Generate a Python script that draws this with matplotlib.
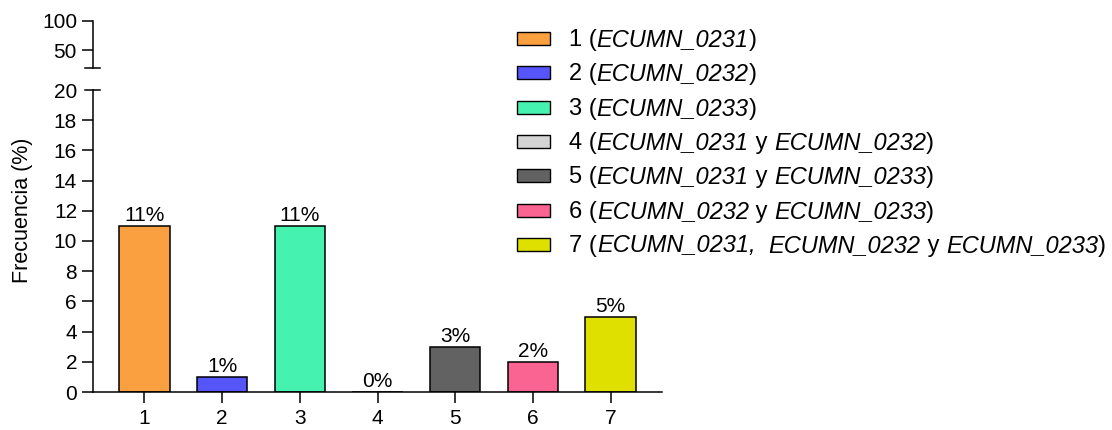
import matplotlib
matplotlib.use("Agg")
import matplotlib.pyplot as plt
from matplotlib.patches import Rectangle

plt.rcParams['font.family'] = ['Liberation Sans', 'DejaVu Sans']

categories = ['1', '2', '3', '4', '5', '6', '7']
values = [11, 1, 11, 0, 3, 2, 5]
bar_labels = ['11%', '1%', '11%', '0%', '3%', '2%', '5%']
colors = ['#FBA040', '#5555FA', '#45F2B0', '#D4D4D4', '#626262', '#FA6492', '#E0E000']
# legend entries: list of (text, italic) pieces
legend_entries = [
    [('1 (', False), ('ECUMN_0231', True), (')', False)],
    [('2 (', False), ('ECUMN_0232', True), (')', False)],
    [('3 (', False), ('ECUMN_0233', True), (')', False)],
    [('4 (', False), ('ECUMN_0231', True), (' y ', False), ('ECUMN_0232', True), (')', False)],
    [('5 (', False), ('ECUMN_0231', True), (' y ', False), ('ECUMN_0233', True), (')', False)],
    [('6 (', False), ('ECUMN_0232', True), (' y ', False), ('ECUMN_0233', True), (')', False)],
    [('7 (', False), ('ECUMN_0231,', True), ('  ', False), ('ECUMN_0232', True), (' y ', False),
     ('ECUMN_0233', True), (')', False)],
]
lower_ticks = [0, 2, 4, 6, 8, 10, 12, 14, 16, 18, 20]
upper_ticks = [50, 100]

FS = 15
LFS = 17
W, H = 1112, 430
fig = plt.figure(figsize=(W / 100, H / 100), dpi=100)

left, right = 93 / W, 662 / W
ax = fig.add_axes([left, (H - 392) / H, right - left, (392 - 90) / H])
axu = fig.add_axes([left, (H - 67.6) / H, right - left, (67.6 - 20.7) / H])

x = list(range(1, len(categories) + 1))
ax.bar(x, values, width=0.65, color=colors, edgecolor='black', linewidth=1.1)
for xi, v, lab in zip(x, values, bar_labels):
    ax.annotate(lab, (xi, v), xytext=(0, 0.5), textcoords='offset points',
                ha='center', va='bottom', fontsize=FS)

ax.set_xlim(0.34, 7.66)
ax.set_ylim(0, 20)
ax.set_xticks(x)
ax.set_xticklabels(categories)
ax.set_yticks(lower_ticks)
for s in ['top', 'right']:
    ax.spines[s].set_visible(False)
for s in ['left', 'bottom']:
    ax.spines[s].set_linewidth(1.1)
ax.tick_params(axis='both', direction='out', length=8, width=1.1, labelsize=FS)
ax.tick_params(axis='y', pad=3.5)
ax.tick_params(axis='x', pad=4)

axu.set_xlim(0.34, 7.66)
axu.set_ylim(20, 100)
axu.set_yticks(upper_ticks)
axu.set_xticks([])
for s in ['top', 'right', 'bottom']:
    axu.spines[s].set_visible(False)
axu.spines['left'].set_linewidth(1.1)
axu.tick_params(axis='y', direction='out', length=8, width=1.1, labelsize=FS, pad=3.5)
axu.patch.set_alpha(0)

# break caps
cap = 7.5 / (right - left) / W
ax.plot([-cap, cap], [1, 1], transform=ax.transAxes, color='black', lw=1.1, clip_on=False)
axu.plot([-cap, cap], [0, 0], transform=axu.transAxes, color='black', lw=1.1, clip_on=False)
ax.yaxis.get_major_ticks()[-1].tick1line.set_visible(False)

fig.text(22.5 / W, (H - 210) / H, 'Frecuencia (%)', rotation=90, ha='center', va='center',
         fontsize=15.5)

# manual legend in pixel coordinates
lax = fig.add_axes([0, 0, 1, 1])
lax.set_xlim(0, W)
lax.set_ylim(H, 0)
lax.axis('off')
lax.patch.set_alpha(0)
for i, (entry, c) in enumerate(zip(legend_entries, colors)):
    yc = 38.3 + 34.4 * i
    lax.add_patch(Rectangle((517, yc - 6.5), 33, 13, facecolor=c, edgecolor='black', linewidth=1.0))
    prev = None
    for txt, it in entry:
        style = 'italic' if it else 'normal'
        if prev is None:
            prev = lax.text(569, yc + 7.5, txt, fontsize=LFS, fontstyle=style, va='baseline', ha='left')
        else:
            prev = lax.annotate(txt, xy=(1, 0), xycoords=prev, fontsize=LFS, fontstyle=style,
                                va='bottom', ha='left')

fig.savefig('out.png', dpi=100)
